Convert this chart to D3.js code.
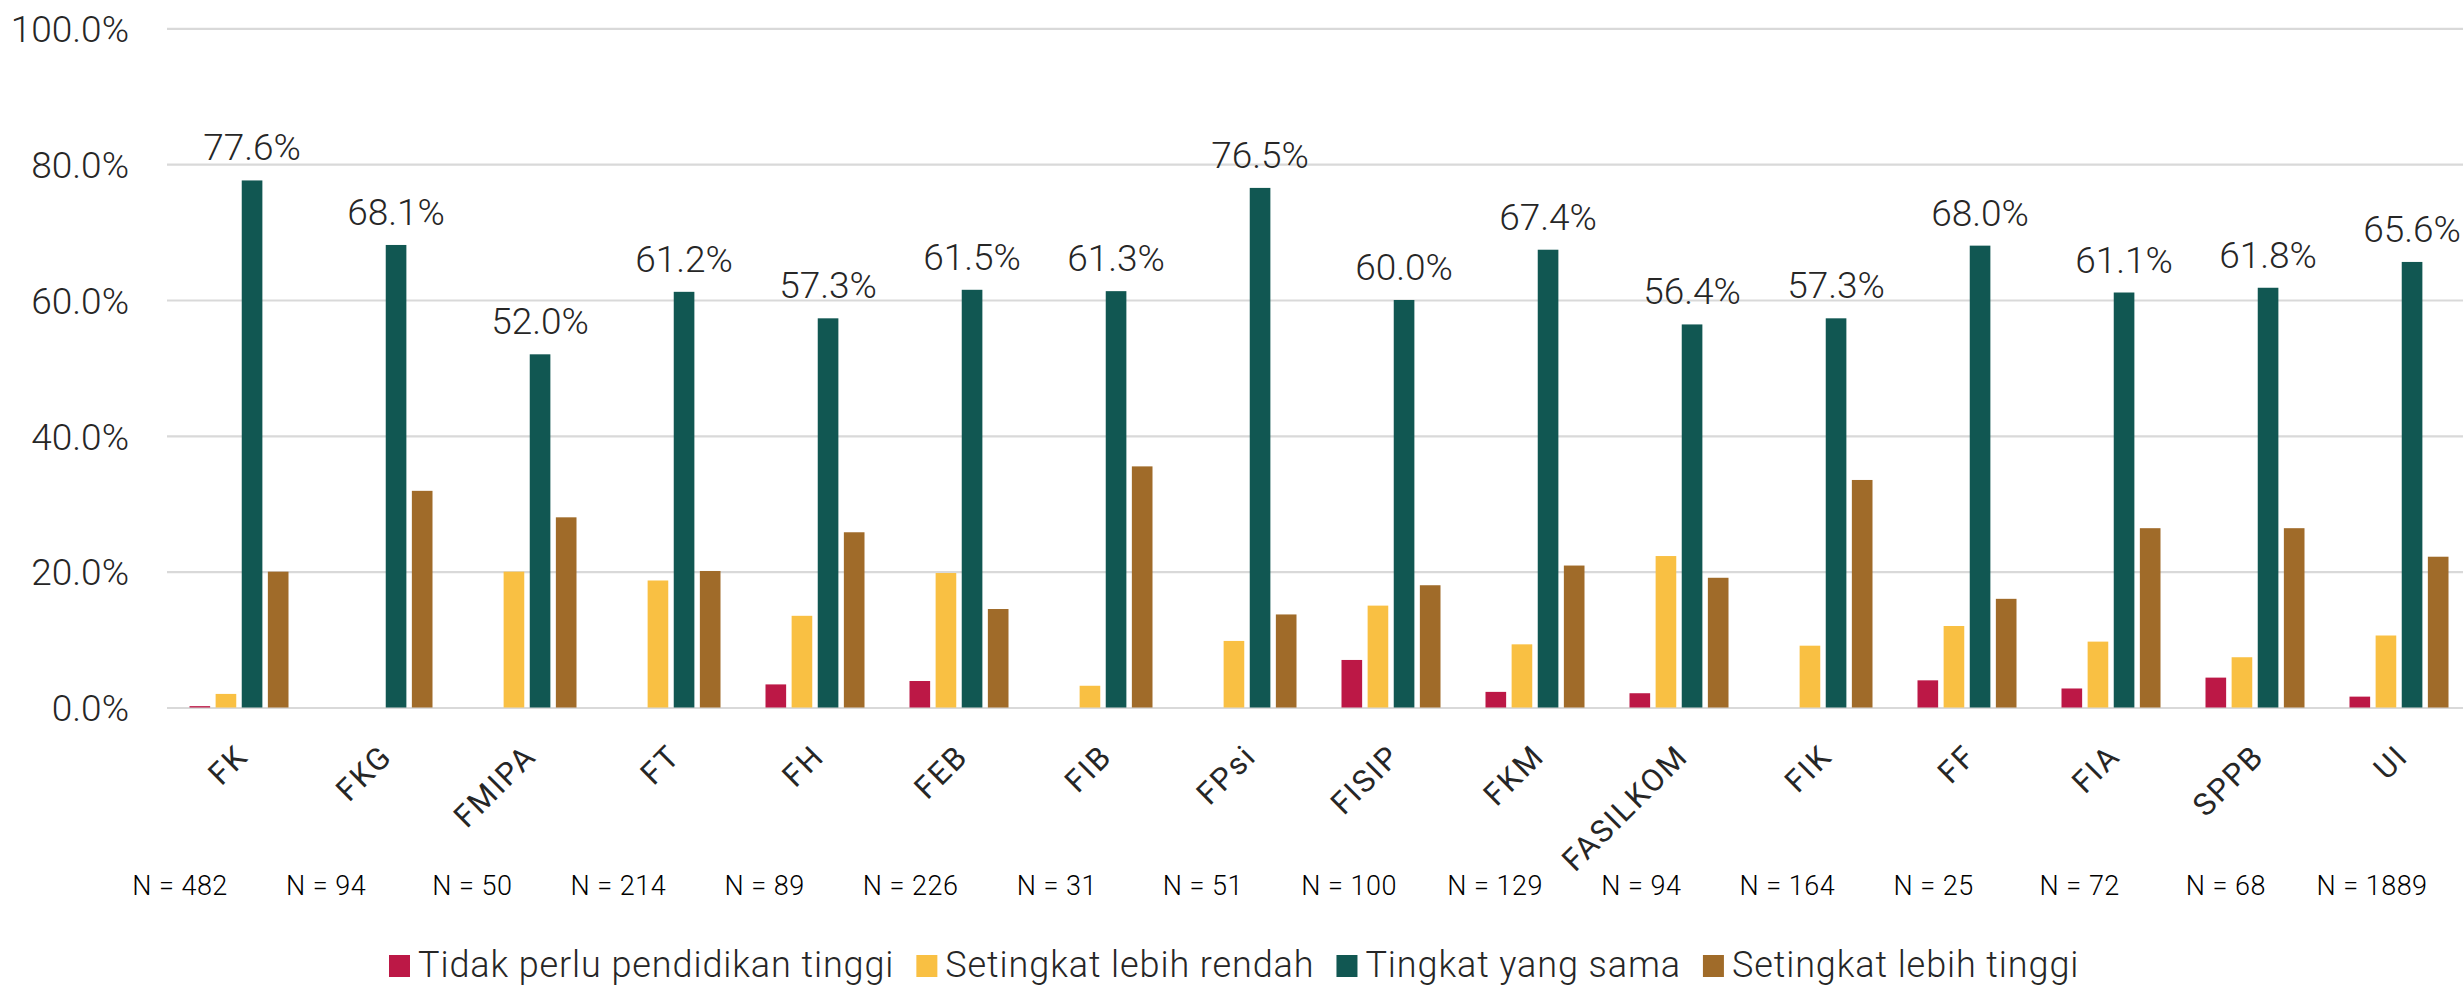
<!DOCTYPE html>
<html>
<head>
<meta charset="utf-8">
<script src="https://cdn.jsdelivr.net/npm/d3@7"></script>
<style>
  html, body { margin: 0; padding: 0; background: #ffffff; }
  svg { display: block; }
</style>
</head>
<body>
<svg id="chart" width="2463" height="986"></svg>
<script>
// ---- data ----
const categories = ["FK","FKG","FMIPA","FT","FH","FEB","FIB","FPsi","FISIP","FKM","FASILKOM","FIK","FF","FIA","SPPB","UI"];
const seriesNames = ["Tidak perlu pendidikan tinggi","Setingkat lebih rendah","Tingkat yang sama","Setingkat lebih tinggi"];
const tidakPerlu  = [0.2, 0,    0,    0,    3.4,  3.9,  0,    0,    7.0,  2.3,  2.1,  0,    4.0,  2.8,  4.4,  1.6];
const lebihRendah = [2.0, 0,    20.0, 18.7, 13.5, 19.8, 3.2,  9.8,  15.0, 9.3,  22.3, 9.1,  12.0, 9.7,  7.4,  10.6];
const tingkatSama = [77.6,68.1, 52.0, 61.2, 57.3, 61.5, 61.3, 76.5, 60.0, 67.4, 56.4, 57.3, 68.0, 61.1, 61.8, 65.6];
const lebihTinggi = [20.0,31.9, 28.0, 20.1, 25.8, 14.5, 35.5, 13.7, 18.0, 20.9, 19.1, 33.5, 16.0, 26.4, 26.4, 22.2];
const nValues = [482, 94, 50, 214, 89, 226, 31, 51, 100, 129, 94, 164, 25, 72, 68, 1889];
const yTicks = [0, 20, 40, 60, 80, 100];

// ---- styles ----
const colors = ["#BC1846", "#F9C043", "#115752", "#A06B29"];
const textColor = "#262626";
const mainFont = "Roboto, 'Noto Sans', sans-serif";

const seriesValues = [tidakPerlu, lebihRendah, tingkatSama, lebihTinggi];
const rows = categories.map((c, i) => ({
  cat: c,
  n: nValues[i],
  vals: seriesNames.map((s, k) => ({ key: s, k: k, value: seriesValues[k][i] }))
}));

const W = 2463, H = 986;
const svg = d3.select("#chart");
svg.append("rect").attr("width", W).attr("height", H).attr("fill", "#fff");

const y = d3.scaleLinear().domain([0, 100]).range([707.5, 28.3]);
const x0 = d3.scaleBand().domain(categories).range([167, 2471]).padding(0);
const x1 = d3.scaleBand().domain(seriesNames).range([22.5, 121.5]).paddingInner(0.21);
const xN = d3.scalePoint().domain(categories).range([180, 2372]);

// gridlines
const grid = svg.append("g").attr("transform", "translate(167,0)")
  .call(d3.axisLeft(y).tickValues(yTicks).tickSize(-(W - 167)).tickFormat(""));
grid.select(".domain").remove();
grid.selectAll(".tick line").attr("stroke", "#D9D9D9").attr("stroke-width", 2.2);

// y axis labels
const yAxis = svg.append("g").attr("transform", "translate(129,0)")
  .call(d3.axisLeft(y).tickValues(yTicks).tickSize(0).tickPadding(0).tickFormat(d => d.toFixed(1) + "%"));
yAxis.select(".domain").remove();
yAxis.selectAll("text")
  .attr("font-family", mainFont).attr("font-weight", 300).attr("font-size", 37).attr("fill", textColor)
  .attr("dy", "0.36em");

// bars
const groups = svg.append("g").selectAll("g.grp").data(rows).join("g")
  .attr("class", "grp")
  .attr("transform", d => `translate(${x0(d.cat)},0)`);

groups.selectAll("rect").data(d => d.vals.filter(v => v.value > 0)).join("rect")
  .attr("x", v => x1(v.key))
  .attr("width", x1.bandwidth())
  .attr("y", v => y(v.value))
  .attr("height", v => y(0) - y(v.value))
  .attr("fill", v => colors[v.k]);

// data labels for "Tingkat yang sama"
groups.append("text")
  .attr("x", d => x1(seriesNames[2]) + x1.bandwidth() / 2)
  .attr("y", d => y(d.vals[2].value) - 20)
  .attr("text-anchor", "middle")
  .attr("font-family", mainFont).attr("font-weight", 300).attr("font-size", 37).attr("fill", textColor)
  .text(d => d.vals[2].value.toFixed(1) + "%");

// x axis category labels (rotated)
const xAxis = svg.append("g").attr("transform", "translate(11,0)")
  .call(d3.axisBottom(x0).tickSize(0).tickPadding(0));
xAxis.select(".domain").remove();
xAxis.selectAll("text")
  .attr("font-family", mainFont).attr("font-weight", 400).attr("font-size", 31)
  .attr("fill", textColor)
  .attr("letter-spacing", 2.1)
  .attr("text-anchor", "end")
  .attr("dy", null)
  .attr("y", 0)
  .attr("transform", "translate(0,758) rotate(-45)");

// N labels
svg.append("g").selectAll("text").data(rows).join("text")
  .attr("x", d => xN(d.cat))
  .attr("y", 895)
  .attr("text-anchor", "middle")
  .attr("font-family", mainFont).attr("font-weight", 300).attr("font-size", 27).attr("fill", "#000")
  .attr("letter-spacing", 0.5)
  .text(d => "N = " + d.n);

// legend
const legend = svg.append("g").attr("transform", "translate(389,966)");
let lx = 0;
seriesNames.forEach((s, k) => {
  const g = legend.append("g").attr("transform", `translate(${lx},0)`);
  g.append("rect").attr("x", 0).attr("y", -11).attr("width", 21).attr("height", 22).attr("fill", colors[k]);
  const t = g.append("text").attr("x", 29).attr("y", 11)
    .attr("font-family", mainFont).attr("font-weight", 300).attr("font-size", 36).attr("fill", textColor)
    .attr("letter-spacing", 0.9)
    .text(s);
  lx += 29 + t.node().getComputedTextLength() + 22;
});
</script>
</body>
</html>
